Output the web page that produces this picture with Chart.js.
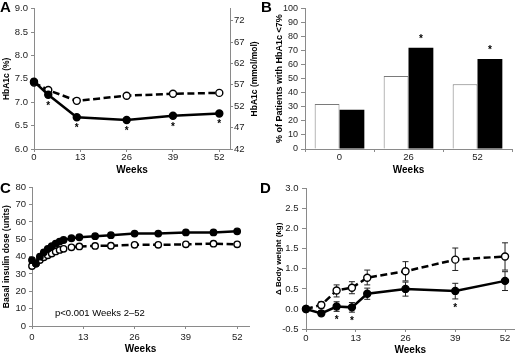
<!DOCTYPE html>
<html><head><meta charset="utf-8">
<script src="https://cdn.jsdelivr.net/npm/chart.js@4.4.0/dist/chart.umd.min.js"></script>
<style>
html,body{margin:0;padding:0;background:#fff;}
#wrap{position:relative;width:520px;height:354px;overflow:hidden;background:#fff;}
.p{position:absolute;}
.p canvas{display:block;}
</style></head><body>
<div id="wrap">
<div class="p" style="left:0;top:0"><canvas id="cA" width="260" height="177"></canvas></div>
<div class="p" style="left:260px;top:0"><canvas id="cB" width="260" height="177"></canvas></div>
<div class="p" style="left:0;top:177px"><canvas id="cC" width="260" height="180"></canvas></div>
<div class="p" style="left:260px;top:177px"><canvas id="cD" width="260" height="180"></canvas></div>
</div>
<script>
// ---------- DATA ----------
const weekTicks = [0, 13, 26, 39, 52];

// Panel A: HbA1c
const weeksA = [0, 4, 12, 26, 39, 52];
const hba1cFilled = [7.44, 7.16, 6.68, 6.62, 6.71, 6.76];
const hba1cOpen = [7.42, 7.26, 7.03, 7.14, 7.18, 7.20];
const starsA = [false, true, true, true, true, true];
const pctTicks = [6.0, 6.5, 7.0, 7.5, 8.0, 8.5, 9.0];
const mmolTicks = [42, 47, 52, 57, 62, 67, 72];

// Panel B: % patients with HbA1c < 7%
const weeksB = ['0', '26', '52'];
const pctOpen = [32, 52, 46];
const pctFilled = [28, 72, 64];
const starsB = [false, true, true];

// Panel C: basal insulin dose
const weeksC = [0, 1, 2, 3, 4, 5, 6, 7, 8, 10, 12, 16, 20, 26, 32, 39, 46, 52];
const doseFilled = [38, 36, 40, 42.5, 44.5, 46, 47.5, 48.7, 49.6, 50.6, 51.2, 51.8, 52.4, 53.3, 53.3, 54.0, 54.0, 54.6];
const doseOpen = [34.6, 36, 38, 39.6, 40.8, 41.8, 43, 43.9, 44.5, 45.4, 45.9, 46.2, 46.3, 46.8, 46.8, 47.1, 47.5, 47.1];

// Panel D: body weight change
const weeksD = [0, 4, 8, 12, 16, 26, 39, 52];
const bwOpen = [0, 0.10, 0.46, 0.53, 0.78, 0.94, 1.23, 1.31];
const bwOpenLo = [0, 0.02, 0.30, 0.38, 0.60, 0.70, 0.96, 0.97];
const bwOpenHi = [0, 0.18, 0.60, 0.68, 0.97, 1.18, 1.52, 1.65];
const bwFilled = [0, -0.11, 0.06, 0.04, 0.38, 0.50, 0.45, 0.70];
const bwFilledLo = [0, -0.17, -0.06, -0.08, 0.24, 0.32, 0.25, 0.46];
const bwFilledHi = [0, -0.04, 0.18, 0.16, 0.52, 0.67, 0.64, 0.93];
const starsD = [false, false, true, true, false, false, true, false];

// ---------- SETUP ----------
const FONT = "'Liberation Sans', Arial, Helvetica, sans-serif";
Chart.defaults.font.family = FONT;
Chart.defaults.color = '#222';
Chart.defaults.animation = false;
Chart.defaults.responsive = false;
Chart.defaults.maintainAspectRatio = false;
Chart.defaults.plugins.legend.display = false;
Chart.defaults.plugins.tooltip.enabled = false;
Chart.defaults.events = [];

const AXIS = '#8a8a8a';
const TICKCOL = '#222';
const fixedTicks = arr => s => { s.ticks = arr.map(v => ({value: v})); };
const gridOpt = tl => ({display: true, drawOnChartArea: false, drawTicks: true, tickLength: tl, color: AXIS, lineWidth: 1});
const borderOpt = {display: true, color: AXIS, width: 1};

function letter(ch, x, y) {
  return {id: 'letter' + ch, afterDraw(c) {
    const ctx = c.ctx; ctx.save();
    ctx.font = 'bold 15px ' + FONT; ctx.fillStyle = '#000';
    ctx.textAlign = 'left'; ctx.textBaseline = 'alphabetic';
    ctx.fillText(ch, x, y); ctx.restore();
  }};
}
function star(ctx, x, baseline) {
  ctx.save();
  ctx.font = 'bold 10px ' + FONT; ctx.fillStyle = '#000';
  ctx.textAlign = 'center'; ctx.textBaseline = 'alphabetic';
  ctx.fillText('*', x, baseline); ctx.restore();
}
function xWeeks(o) {
  return {
    type: 'linear', min: 0, max: o.max,
    afterBuildTicks: fixedTicks(weekTicks),
    afterFit: s => { s.height = o.h; },
    grid: gridOpt(3), border: borderOpt,
    ticks: {padding: o.tp, font: {size: 9.5}, color: TICKCOL, maxRotation: 0, autoSkip: false},
    title: {display: true, text: 'Weeks', font: {size: 10, weight: 'bold'}, color: '#000', padding: {top: 0, bottom: o.titlePad}}
  };
}
function lineDs(data, xs, filled, dashed, r) {
  return {
    data: xs.map((x, i) => ({x: x, y: data[i]})),
    borderColor: '#000', borderWidth: 2.5, borderDash: dashed ? [7, 3.5] : [],
    pointRadius: r, pointBorderWidth: 1.4, pointBorderColor: '#000',
    pointBackgroundColor: filled ? '#000' : '#fff',
    tension: 0, clip: false, fill: false
  };
}

// ---------- PANEL A ----------
new Chart(document.getElementById('cA'), {
  type: 'line',
  data: {datasets: [
    lineDs(hba1cFilled, weeksA, true, false, 3.5),
    lineDs(hba1cOpen, weeksA, false, true, 3.5)
  ]},
  options: {
    layout: {padding: {top: 7, left: 0, right: 0, bottom: 0}},
    scales: {
      x: xWeeks({max: 55, h: 28, tp: 0, titlePad: 1}),
      y: {
        position: 'left', min: 6, max: 9,
        afterBuildTicks: fixedTicks(pctTicks),
        afterFit: s => { s.width = 34; },
        grid: gridOpt(3), border: borderOpt,
        ticks: {padding: 3, font: {size: 9.5}, color: TICKCOL, callback: v => v.toFixed(1)},
        title: {display: true, text: 'HbA1c (%)', font: {size: 8.5, weight: 'bold'}, color: '#000', padding: {top: 2, bottom: 0}}
      },
      y2: {
        position: 'right', min: 42, max: 42 + 3 * 10.929,
        afterBuildTicks: fixedTicks(mmolTicks),
        afterFit: s => { s.width = 30; },
        grid: gridOpt(3), border: borderOpt,
        ticks: {padding: 1, font: {size: 9.5}, color: TICKCOL},
        title: {display: false}
      }
    }
  },
  plugins: [letter('A', 0, 12), {
    id: 'extrasA',
    afterDatasetsDraw(c) {
      const xs = c.scales.x, ys = c.scales.y;
      weeksA.forEach((w, i) => {
        if (starsA[i]) star(c.ctx, xs.getPixelForValue(w), ys.getPixelForValue(hba1cFilled[i]) + 14);
      });
    },
    afterDraw(c) {
      const ctx = c.ctx; ctx.save();
      ctx.translate(255, (c.chartArea.top + c.chartArea.bottom) / 2);
      ctx.rotate(-Math.PI / 2);
      ctx.font = 'bold 8.5px ' + FONT; ctx.fillStyle = '#000';
      ctx.textAlign = 'center'; ctx.textBaseline = 'middle';
      ctx.fillText('HbA1c (mmol/mol)', 0, 0); ctx.restore();
    }
  }]
});

// ---------- PANEL B ----------
new Chart(document.getElementById('cB'), {
  type: 'bar',
  data: {labels: weeksB, datasets: [
    {data: pctOpen, backgroundColor: '#fff', borderColor: '#7a7a7a', borderWidth: 1, borderSkipped: 'start'},
    {data: pctFilled, backgroundColor: '#000', borderColor: '#000', borderWidth: 0}
  ]},
  options: {
    layout: {padding: {top: 7, left: 0, right: 8, bottom: 0}},
    datasets: {bar: {barPercentage: 1.0, categoryPercentage: 0.72}},
    scales: {
      x: {
        afterFit: s => { s.height = 28; },
        grid: Object.assign(gridOpt(3), {offset: true}), border: borderOpt,
        ticks: {padding: 0, font: {size: 9.5}, color: TICKCOL, maxRotation: 0},
        title: {display: true, text: 'Weeks', font: {size: 10, weight: 'bold'}, color: '#000', padding: {top: 0, bottom: 1}}
      },
      y: {
        min: 0, max: 100,
        ticks: {stepSize: 10, padding: 3, font: {size: 9}, color: TICKCOL},
        afterFit: s => { s.width = 45; },
        grid: gridOpt(4), border: borderOpt,
        title: {display: true, text: '% of Patients with HbA1c <7%', font: {size: 9, weight: 'bold'}, color: '#000', padding: {top: 14, bottom: 0}}
      }
    }
  },
  plugins: [letter('B', 1, 12), {
    id: 'starsB',
    afterDatasetsDraw(c) {
      const meta = c.getDatasetMeta(1);
      meta.data.forEach((bar, i) => { if (starsB[i]) star(c.ctx, bar.x, bar.y - 6); });
    }
  }]
});

// ---------- PANEL C ----------
new Chart(document.getElementById('cC'), {
  type: 'line',
  data: {datasets: [
    lineDs(doseFilled, weeksC, true, false, 3.2),
    lineDs(doseOpen, weeksC, false, true, 3.2)
  ]},
  options: {
    layout: {padding: {top: 10.3, left: 0, right: 11, bottom: 0}},
    scales: {
      x: xWeeks({max: 55, h: 31, tp: 3, titlePad: 2}),
      y: {
        min: 0, max: 80,
        ticks: {stepSize: 10, padding: 3, font: {size: 9.5}, color: TICKCOL},
        afterFit: s => { s.width = 32; },
        grid: gridOpt(3), border: borderOpt,
        title: {display: true, text: 'Basal insulin dose (units)', font: {size: 8.5, weight: 'bold'}, color: '#000', padding: {top: 2, bottom: 0}}
      }
    }
  },
  plugins: [letter('C', 0, 16), {
    id: 'noteC',
    afterDraw(c) {
      const ctx = c.ctx; ctx.save();
      ctx.font = '9.5px ' + FONT; ctx.fillStyle = '#000';
      ctx.textAlign = 'left'; ctx.textBaseline = 'middle';
      ctx.fillText('p<0.001 Weeks 2\u201352', 55, 136); ctx.restore();
    }
  }]
});

// ---------- PANEL D ----------
function errBars(c, xs, ys, lo, hi) {
  const ctx = c.ctx; ctx.save();
  ctx.strokeStyle = '#222'; ctx.lineWidth = 1;
  weeksD.forEach((w, i) => {
    if (lo[i] === hi[i]) return;
    const x = xs.getPixelForValue(w), y1 = ys.getPixelForValue(lo[i]), y2 = ys.getPixelForValue(hi[i]);
    ctx.beginPath();
    ctx.moveTo(x, y1); ctx.lineTo(x, y2);
    ctx.moveTo(x - 3, y1); ctx.lineTo(x + 3, y1);
    ctx.moveTo(x - 3, y2); ctx.lineTo(x + 3, y2);
    ctx.stroke();
  });
  ctx.restore();
}
new Chart(document.getElementById('cD'), {
  type: 'line',
  data: {datasets: [
    lineDs(bwFilled, weeksD, true, false, 3.5),
    lineDs(bwOpen, weeksD, false, true, 3.5)
  ]},
  options: {
    layout: {padding: {top: 11.7, left: 0, right: 1, bottom: 0}},
    scales: {
      x: xWeeks({max: 54.5, h: 28, tp: 1, titlePad: 1}),
      y: {
        min: -0.5, max: 3.0,
        ticks: {stepSize: 0.5, padding: 3.5, font: {size: 9.5}, color: TICKCOL, callback: v => v.toFixed(1)},
        afterFit: s => { s.width = 46; },
        grid: gridOpt(4), border: borderOpt,
        title: {display: true, text: '\u0394 Body weight (kg)', font: {size: 8, weight: 'bold'}, color: '#000', padding: {top: 13.5, bottom: 0}}
      }
    }
  },
  plugins: [letter('D', 0, 16), {
    id: 'errD',
    beforeDatasetsDraw(c) {
      const xs = c.scales.x, ys = c.scales.y;
      errBars(c, xs, ys, bwOpenLo, bwOpenHi);
      errBars(c, xs, ys, bwFilledLo, bwFilledHi);
    },
    afterDatasetsDraw(c) {
      const xs = c.scales.x, ys = c.scales.y;
      weeksD.forEach((w, i) => {
        if (starsD[i]) star(c.ctx, xs.getPixelForValue(w), ys.getPixelForValue(bwFilledLo[i]) + 12);
      });
    }
  }]
});
</script>
</body></html>
